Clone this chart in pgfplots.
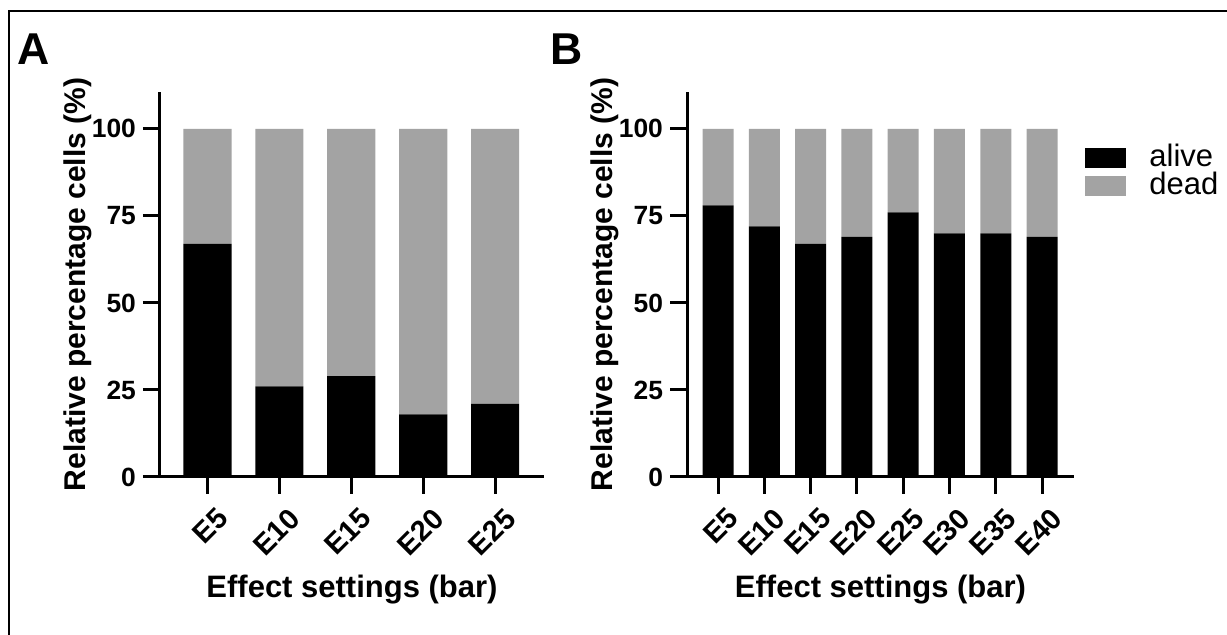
\documentclass[border=0pt]{standalone}
\usepackage{pgfplots}
\pgfplotsset{compat=1.18}
\usepackage{fontspec}
\setmainfont{Liberation Sans}
\definecolor{deadgray}{RGB}{163,163,163}

\pgfplotsset{
  panel/.style={
    scale only axis, height=192.5pt,
    ybar stacked, bar width=0.67,
    ymin=0, ymax=110.6,
    ytick={0,25,50,75,100},
    xtick=data,
    axis lines*=left,
    axis line style={line width=1.5pt},
    every tick/.style={line width=1.5pt,black},
    major tick length=8.5pt,
    tick align=outside,
    /pgf/number format/assume math mode=true,
    yticklabel style={font=\fontsize{13.2}{15}\selectfont\bfseries},
    xticklabel style={xshift=4pt,yshift=-4.5pt,rotate=45,anchor=north east,inner sep=1pt,
      font=\fontsize{14.5}{16}\selectfont\bfseries},
    ylabel={Relative percentage cells (\%)},
    xlabel={Effect settings (bar)},
    xlabel style={font=\fontsize{15.5}{18}\selectfont\bfseries,
      at={(axis description cs:0.5,0)},anchor=base,yshift=-60.5pt},
    ylabel style={font=\fontsize{15}{18}\selectfont\bfseries,anchor=center},
  },
  alive/.style={fill=black,draw=none},
  dead/.style={fill=deadgray,draw=none},
}

\begin{document}
\begin{tikzpicture}
\path[use as bounding box] (0,0) rectangle (613.5pt,317.5pt);
\clip (0,0) rectangle (613.5pt,317.5pt);
\draw[line width=1.2pt] (4.5pt,-20pt) rectangle (640pt,312pt);

\node[font=\fontsize{22.3}{26}\selectfont\bfseries] at (17pt,293pt) {A};
\node[font=\fontsize{22.3}{26}\selectfont\bfseries] at (283.5pt,293pt) {B};

% panel A
\begin{axis}[panel, at={(80pt,79pt)}, anchor=south west,
  width=192pt, xmin=-0.66, xmax=4.68,
  ylabel style={at={(axis description cs:-0.2135,0.5)}},
  xticklabels={E5,E10,E15,E20,E25}]
\addplot[alive] coordinates {(0,67) (1,26) (2,29) (3,18) (4,21)};
\addplot[dead] coordinates {(0,33) (1,74) (2,71) (3,82) (4,79)};
\end{axis}

% panel B
\begin{axis}[panel, at={(343.5pt,79pt)}, anchor=south west,
  width=193.5pt, xmin=-0.67, xmax=7.69,
  ylabel style={at={(axis description cs:-0.212,0.5)}},
  xticklabels={E5,E10,E15,E20,E25,E30,E35,E40},
  legend style={at={(axis description cs:1,1)},anchor=north west,
    xshift=5.5pt,yshift=-27pt,draw=none,fill=none,inner sep=0pt,
    row sep=2pt,column sep=11.5pt,
    font=\fontsize{15.5}{17}\selectfont,
    nodes={inner sep=0pt,text height=10pt,text depth=2pt}},
  legend cell align=left,
  legend image code/.code={\fill[#1] (0pt,-5pt) rectangle (20.5pt,5pt);}]
\addplot[alive] coordinates {(0,78) (1,72) (2,67) (3,69) (4,76) (5,70) (6,70) (7,69)};
\addlegendentry{alive}
\addplot[dead] coordinates {(0,22) (1,28) (2,33) (3,31) (4,24) (5,30) (6,30) (7,31)};
\addlegendentry{dead}
\end{axis}
\end{tikzpicture}
\end{document}
